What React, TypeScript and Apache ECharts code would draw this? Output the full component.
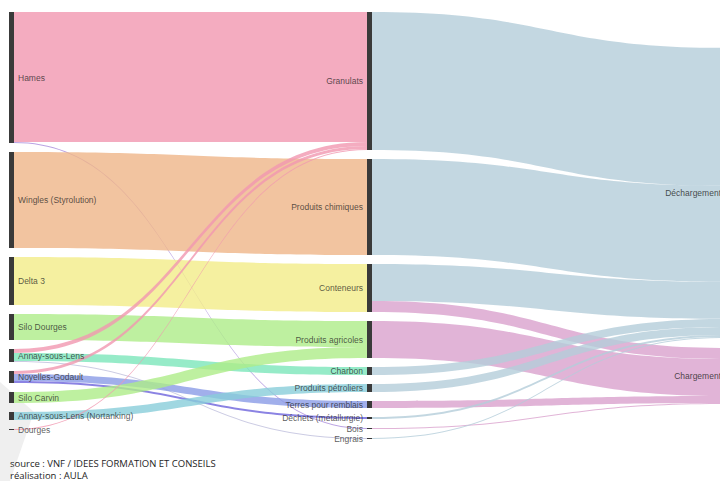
import React, { useEffect, useRef } from "react";
import * as echarts from "echarts";

// Columns of the alluvial diagram
const sources = [
  "Hames",
  "Wingles (Styrolution)",
  "Delta 3",
  "Silo Dourges",
  "Annay-sous-Lens",
  "Noyelles-Godault",
  "Silo Carvin",
  "Annay-sous-Lens (Nortanking)",
  "Dourges",
];
const products = [
  "Granulats",
  "Produits chimiques",
  "Conteneurs",
  "Produits agricoles",
  "Charbon",
  "Produits pétroliers",
  "Terres pour remblais",
  "Déchets (métallurgie)",
  "Bois",
  "Engrais",
];
const operations = ["Déchargement", "Chargement"];

const productColors = [
  "#f197b0",
  "#efb588",
  "#f3ec88",
  "#aeec88",
  "#7ce6ba",
  "#88cdd9",
  "#8a9be6",
  "#6e64dc",
  "#aa8cdc",
  "#bebedc",
];
const operationColors = ["#b4cdd9", "#d9a1cd"];

// flows: site -> product (estimated, relative units)
const siteFlows: [string, string, number][] = [
  ["Hames", "Granulats", 130],
  ["Hames", "Bois", 1],
  ["Wingles (Styrolution)", "Produits chimiques", 96],
  ["Delta 3", "Conteneurs", 48],
  ["Silo Dourges", "Produits agricoles", 26],
  ["Annay-sous-Lens", "Granulats", 4],
  ["Annay-sous-Lens", "Charbon", 8],
  ["Annay-sous-Lens", "Engrais", 1],
  ["Noyelles-Godault", "Granulats", 3],
  ["Noyelles-Godault", "Terres pour remblais", 7],
  ["Noyelles-Godault", "Déchets (métallurgie)", 2],
  ["Silo Carvin", "Produits agricoles", 11],
  ["Annay-sous-Lens (Nortanking)", "Produits pétroliers", 8],
  ["Dourges", "Granulats", 1],
];

// flows: product -> operation
const operationFlows: [string, string, number][] = [
  ["Granulats", "Déchargement", 138],
  ["Produits chimiques", "Déchargement", 96],
  ["Conteneurs", "Déchargement", 37],
  ["Conteneurs", "Chargement", 11],
  ["Produits agricoles", "Chargement", 37],
  ["Charbon", "Déchargement", 8],
  ["Produits pétroliers", "Déchargement", 8],
  ["Terres pour remblais", "Chargement", 7],
  ["Déchets (métallurgie)", "Déchargement", 2],
  ["Bois", "Chargement", 1],
  ["Engrais", "Déchargement", 1],
];

const sourceLines = [
  "source : VNF / IDEES FORMATION ET CONSEILS",
  "réalisation : AULA",
];

// layout position (fraction of series height) of the right-hand column
const operationLocalY = [0.084, 0.787];

export default function App() {
  const ref = useRef<HTMLDivElement>(null);

  useEffect(() => {
    if (!ref.current) return;
    const chart = echarts.init(ref.current, undefined, { renderer: "svg" });

    const colorOf: Record<string, string> = {};
    products.forEach((p, i) => (colorOf[p] = productColors[i]));
    operations.forEach((p, i) => (colorOf[p] = operationColors[i]));

    const labelBase = {
      show: true,
      fontSize: 8.5,
      fontFamily: "Liberation Sans, Arial, sans-serif",
      color: "rgba(30,30,30,0.75)",
      distance: 4,
    };

    const nodes = [
      ...sources.map((name) => ({
        name,
        itemStyle: { color: "#3a3a3a" },
        label: { ...labelBase, position: "right" },
      })),
      ...products.map((name) => ({
        name,
        itemStyle: { color: "#3a3a3a" },
        label: { ...labelBase, position: "left" },
      })),
      ...operations.map((name, i) => ({
        name,
        localY: operationLocalY[i],
        itemStyle: { color: "#3a3a3a" },
        label: { ...labelBase, position: "left", color: "rgba(30,30,30,0.8)" },
      })),
    ];

    const links = [...siteFlows, ...operationFlows].map(([s, t, v]) => ({
      source: s,
      target: t,
      value: v,
      lineStyle: { color: colorOf[t], opacity: 0.8 },
    }));

    chart.setOption({
      animation: false,
      backgroundColor: "#ffffff",
      tooltip: { show: false },
      graphic: [
        {
          type: "polygon",
          z: 0,
          shape: { points: [[0, 382], [34, 412], [10, 481], [0, 481]] },
          style: { fill: "#efefef" },
          silent: true,
        },
        ...sourceLines.map((t, i) => ({
          type: "text",
          left: 10,
          top: 458 + i * 12,
          z: 10,
          style: {
            text: t,
            fill: "#1e1e1e",
            font: "9.5px 'Open Sans', sans-serif",
          },
        })),
      ],
      series: [
        {
          type: "sankey",
          left: 9,
          top: 12,
          width: 721,
          height: 427,
          nodeWidth: 5,
          nodeGap: 9,
          layoutIterations: 0,
          draggable: false,
          emphasis: { disabled: true },
          lineStyle: { curveness: 0.5 },
          data: nodes,
          links,
        },
      ],
    });

    return () => chart.dispose();
  }, []);

  return (
    <div
      ref={ref}
      style={{ position: "absolute", left: 0, top: 0, width: 720, height: 481 }}
    />
  );
}
